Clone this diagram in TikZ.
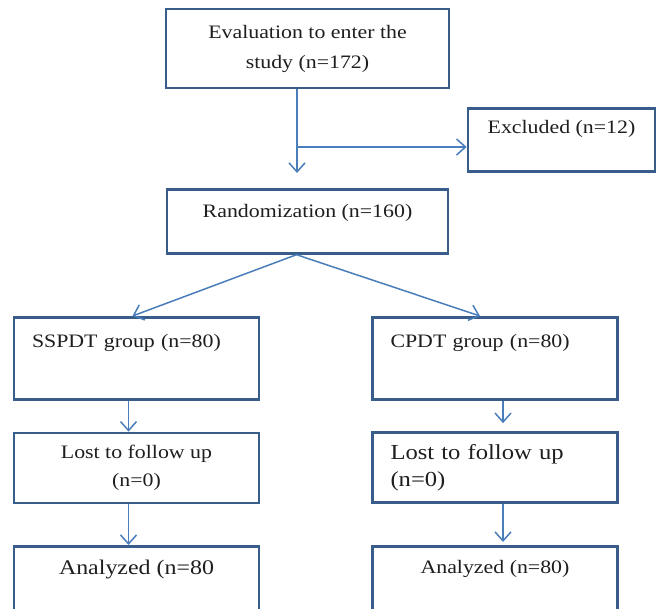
\documentclass[tikz,border=0pt]{standalone}
\usepackage{fontspec}
\setmainfont{Liberation Serif}[FakeStretch=1.15]
\usetikzlibrary{arrows.meta}
\definecolor{boxline}{RGB}{56,93,138}
\definecolor{arrowline}{RGB}{74,126,187}
\definecolor{txt}{RGB}{30,30,30}
\tikzset{
  box/.style={draw=boxline, line width=2.7pt, fill=white, text=txt, inner sep=0pt, font=\fontsize{19}{28}\selectfont},
  arrow/.style={draw=arrowline, line width=1.5pt, -{Straight Barb[length=9pt,width=16pt]}}
}

\begin{document}
\begin{tikzpicture}[x=1pt, y=-1pt]
    \useasboundingbox (0,0) rectangle (658,608);
    \clip (0,0) rectangle (658,608);
    \fill[white] (0,0) rectangle (658,608);

    % top of the chart
    \node[box, minimum width=283, minimum height=79, align=center, font=\fontsize{19}{30}\selectfont] (eval) at (307.5,48.5) {Evaluation to enter the\\study (n=172)};
    \node[box, anchor=north, minimum width=187, text height=25.3pt, text depth=37.7pt] (excl) at (561.5,107) {Excluded (n=12)};
    \node[box, anchor=north, minimum width=281, text height=28.4pt, text depth=35.6pt] (rand) at (307.5,188) {Randomization (n=160)};

    % the two groups
    \node[box, anchor=north, inner xsep=18pt, text width=209pt, align=left, text height=30.4pt, text depth=51.6pt] (sspdt) at (136.5,316) {SSPDT group (n=80)};
    \node[box, anchor=north, inner xsep=18pt, text width=209pt, align=left, text height=30.4pt, text depth=51.6pt] (cpdt) at (495,316) {CPDT group (n=80)};
    \node[box, minimum width=245, minimum height=70, align=center] (lost1) at (136.5,468) {Lost to follow up\\(n=0)};
    \node[box, minimum height=70, inner xsep=18pt, text width=209pt, align=left, font=\fontsize{21.4}{27}\selectfont] (lost2) at (495,467.5) {Lost to follow up\\(n=0)};
    \node[box, anchor=north, minimum width=245, text height=27.8pt, text depth=80pt, font=\fontsize{20.8}{28}\selectfont] (anal1) at (136.5,545) {Analyzed (n=80};
    \node[box, anchor=north, minimum width=245, text height=27.4pt, text depth=80pt] (anal2) at (495,545) {Analyzed (n=80)};

    % connectors
    \coordinate (split) at (297,147);
    \draw[arrow, shorten >=15pt] (split |- eval.south) -- (split |- rand.north);
    \draw[arrow] (split) -- (split -| excl.west);
    \draw[arrow] ([xshift=-11pt]rand.south) -- ([xshift=-4pt]sspdt.north);
    \draw[arrow] ([xshift=-11pt]rand.south) -- ([xshift=-15pt]cpdt.north);
    \draw[arrow] ([xshift=-8pt]sspdt.south) -- ([xshift=-8pt]lost1.north);
    \draw[arrow] ([xshift=-8pt]lost1.south) -- ([xshift=-8pt]anal1.north);
    \draw[arrow, shorten >=8pt] ([xshift=8pt]cpdt.south) -- ([xshift=8pt]lost2.north);
    \draw[arrow, shorten >=3pt] ([xshift=8pt]lost2.south) -- ([xshift=8pt]anal2.north);
\end{tikzpicture}
\end{document}
